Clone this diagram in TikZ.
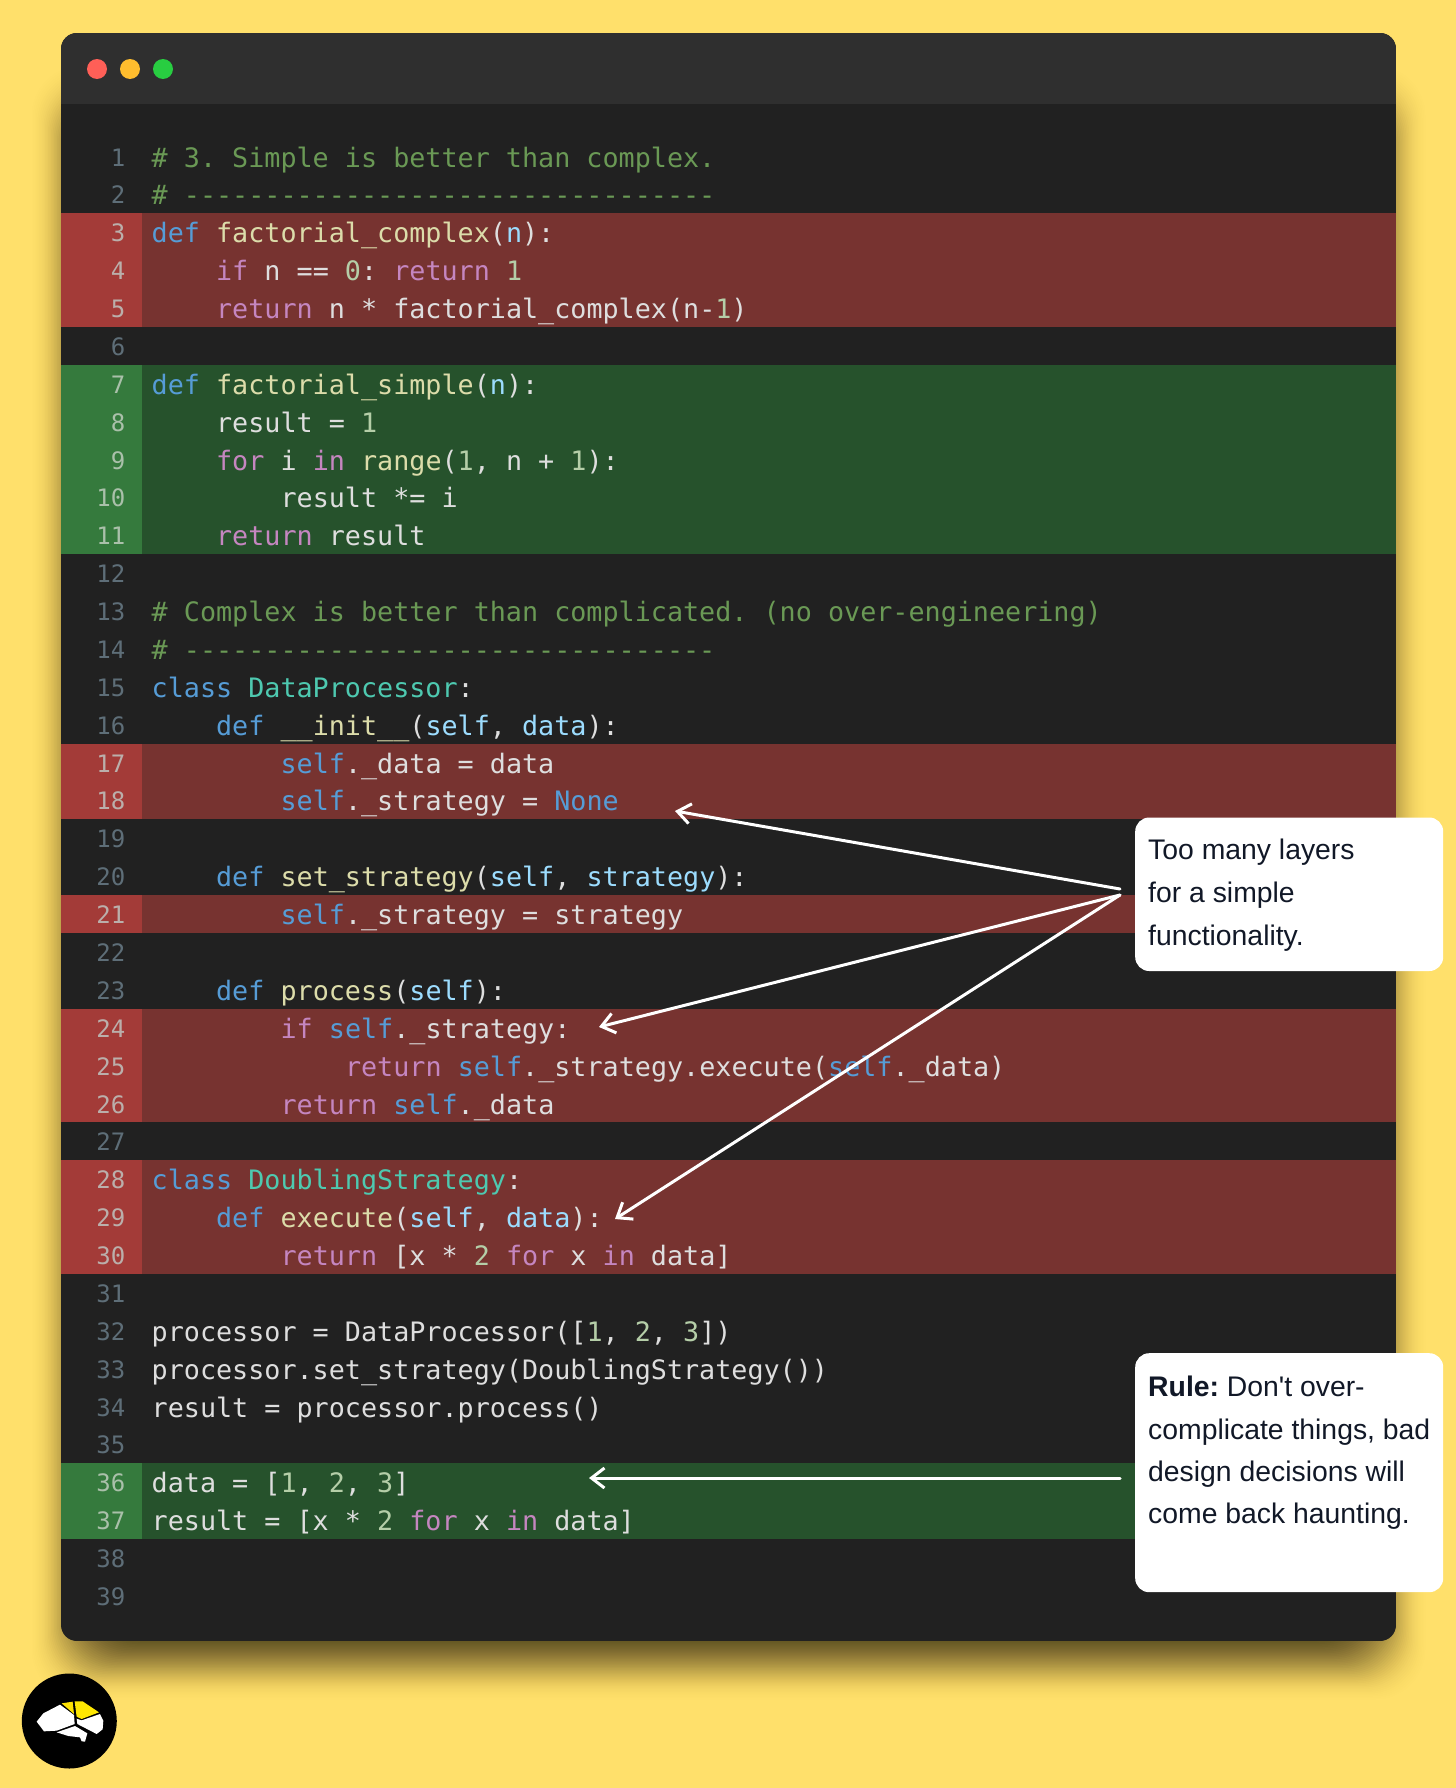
\documentclass[tikz,border=0pt]{standalone}
\usepackage{fontspec}
\usetikzlibrary{arrows.meta}
\setmainfont{Liberation Sans}
\newfontfamily\callfont{Liberation Sans}
\newfontfamily\codefont{DejaVu Sans Mono}
\frenchspacing
\definecolor{bgyellow}{HTML}{FFE06B}
\definecolor{winbody}{HTML}{212121}
\definecolor{wintitle}{HTML}{2F2F2F}
\definecolor{redgut}{HTML}{A33B38}
\definecolor{redrow}{HTML}{773330}
\definecolor{greengut}{HTML}{357A3D}
\definecolor{greenrow}{HTML}{26522C}
\definecolor{cplain}{HTML}{DEDEDE}
\definecolor{ckw}{HTML}{C586C0}
\definecolor{cblue}{HTML}{569CD6}
\definecolor{cfn}{HTML}{DCDCAA}
\definecolor{cvar}{HTML}{9CDCFE}
\definecolor{cnum}{HTML}{B5CEA8}
\definecolor{ccom}{HTML}{6A9955}
\definecolor{cteal}{HTML}{4EC9B0}
\definecolor{inktext}{HTML}{111827}
\definecolor{numdark}{HTML}{5E6E78}
\definecolor{numred}{HTML}{BBAFAB}
\definecolor{numgreen}{HTML}{AAC0AA}
\newcommand{\K}[1]{\textcolor{ckw}{#1}}
\newcommand{\B}[1]{\textcolor{cblue}{#1}}
\newcommand{\F}[1]{\textcolor{cfn}{#1}}
\newcommand{\V}[1]{\textcolor{cvar}{#1}}
\newcommand{\N}[1]{\textcolor{cnum}{#1}}
\newcommand{\Cm}[1]{\textcolor{ccom}{#1}}
\newcommand{\Tl}[1]{\textcolor{cteal}{#1}}
\newcommand{\codeline}[3]{%
  \pgfmathsetmacro\cx{151.5+#2*16.11}%
  \pgfmathsetmacro\cy{167+(#1-1)*37.88}%
  \node[codetext] (c#1) at (\cx,\cy) {#3};}
\newcommand{\numline}[2]{%
  \pgfmathsetmacro\cy{166+(#1-1)*37.88}%
  \node[numtext,text=#2] (n#1) at (125.5,\cy) {#1};}
\newcommand{\band}[3]{%
  \pgfmathsetmacro\ya{137.5+(#1-1)*37.88}%
  \pgfmathsetmacro\yb{137.5+#2*37.88}%
  \fill[#3row] (61,\ya) rectangle (1396,\yb);
  \fill[#3gut] (61,\ya) rectangle (142,\yb);}
\tikzset{
  codetext/.style={anchor=base west,inner sep=0pt,text=cplain,font=\codefont\fontsize{26.75}{30}\selectfont},
  numtext/.style={anchor=base east,inner sep=0pt,font=\codefont\fontsize{24}{28}\selectfont},
  callout/.style={fill=white,rounded corners=14pt,inner sep=0pt,anchor=north west},
  calltext/.style={anchor=base west,inner sep=0pt,text=inktext,font=\callfont\fontsize{28.35}{34}\selectfont},
  pointer/.style={draw=white,line width=3pt,line cap=round,-{Straight Barb[length=13pt,width=20pt,line width=3pt]}},
  light/.style={circle,inner sep=0pt,minimum size=20pt},
}
\begin{document}
\begin{tikzpicture}[x=1pt,y=-1pt]
\useasboundingbox (0,0) rectangle (1456,1788);
\fill[bgyellow] (0,0) rectangle (1456,1788);
% soft shadow under the window: bell-shaped stack of faint layers
\foreach \s in {55,53.5,...,-55}{
  \pgfmathsetmacro\shop{0.03*sin((55-\s)/110*180)^2}
  \fill[black,opacity=\shop,rounded corners=50pt]
    (76-\s,110-\s) rectangle (1381+\s,1655+\s);
}
% window
\begin{scope}
  \clip[rounded corners=16pt] (61,33) rectangle (1396,1641);
  \fill[winbody] (61,33) rectangle (1396,1641);
  \fill[wintitle] (61,33) rectangle (1396,104);
  \band{3}{5}{red}
  \band{7}{11}{green}
  \band{17}{18}{red}
  \band{21}{21}{red}
  \band{24}{26}{red}
  \band{28}{30}{red}
  \band{36}{37}{green}
\end{scope}
\node[light,fill={rgb,255:red,255;green,95;blue,87}] (lr) at (97,69) {};
\node[light,fill={rgb,255:red,255;green,189;blue,46}] (ly) at (130,69) {};
\node[light,fill={rgb,255:red,40;green,205;blue,65}] (lg) at (163,69) {};
% line numbers
\foreach \k in {1,2,6,12,13,14,15,16,19,20,22,23,27,31,32,33,34,35,38,39}{\numline{\k}{numdark}}
\foreach \k in {3,4,5,17,18,21,24,25,26,28,29,30}{\numline{\k}{numred}}
\foreach \k in {7,8,9,10,11,36,37}{\numline{\k}{numgreen}}
% code
\codeline{1}{0}{\Cm{\# 3. Simple is better than complex.}}
\codeline{2}{0}{\Cm{\# ---------------------------------}}
\codeline{3}{0}{\B{def} \F{factorial\_complex}(\V{n}):}
\codeline{4}{4}{\K{if} n == \N{0}: \K{return} \N{1}}
\codeline{5}{4}{\K{return} n * factorial\_complex(n-\N{1})}
\codeline{7}{0}{\B{def} \F{factorial\_simple}(\V{n}):}
\codeline{8}{4}{result = \N{1}}
\codeline{9}{4}{\K{for} i \K{in} \F{range}(\N{1}, n + \N{1}):}
\codeline{10}{8}{result *= i}
\codeline{11}{4}{\K{return} result}
\codeline{13}{0}{\Cm{\# Complex is better than complicated. (no over-engineering)}}
\codeline{14}{0}{\Cm{\# ---------------------------------}}
\codeline{15}{0}{\B{class} \Tl{DataProcessor}:}
\codeline{16}{4}{\B{def} \F{\_\_init\_\_}(\V{self}, \V{data}):}
\codeline{17}{8}{\B{self}.\_data = data}
\codeline{18}{8}{\B{self}.\_strategy = \B{None}}
\codeline{20}{4}{\B{def} \F{set\_strategy}(\V{self}, \V{strategy}):}
\codeline{21}{8}{\B{self}.\_strategy = strategy}
\codeline{23}{4}{\B{def} \F{process}(\V{self}):}
\codeline{24}{8}{\K{if} \B{self}.\_strategy:}
\codeline{25}{12}{\K{return} \B{self}.\_strategy.execute(\B{self}.\_data)}
\codeline{26}{8}{\K{return} \B{self}.\_data}
\codeline{28}{0}{\B{class} \Tl{DoublingStrategy}:}
\codeline{29}{4}{\B{def} \F{execute}(\V{self}, \V{data}):}
\codeline{30}{8}{\K{return} [x * \N{2} \K{for} x \K{in} data]}
\codeline{32}{0}{processor = DataProcessor([\N{1}, \N{2}, \N{3}])}
\codeline{33}{0}{processor.set\_strategy(DoublingStrategy())}
\codeline{34}{0}{result = processor.process()}
\codeline{36}{0}{data = [\N{1}, \N{2}, \N{3}]}
\codeline{37}{0}{result = [x * \N{2} \K{for} x \K{in} data]}
% callouts
\node[callout,minimum width=308pt,minimum height=153.5pt] (box1) at (1135,817.3) {};
\node[callout,minimum width=308pt,minimum height=239pt] (box2) at (1135,1353) {};
\node[calltext] (t1a) at (1148,859) {Too many layers};
\node[calltext] (t1b) at (1148,902.5) {for a simple};
\node[calltext] (t1c) at (1148,945) {functionality.};
\node[calltext] (t2a) at (1148,1396) {\textbf{Rule:} Don't over-};
\node[calltext] (t2b) at (1148,1439) {complicate things, bad};
\node[calltext] (t2c) at (1148,1481) {design decisions will};
\node[calltext] (t2d) at (1148,1523) {come back haunting.};
% arrows
\coordinate (s1) at (1120,889);
\coordinate (s2) at (1120,895);
\coordinate (s4) at (1120,1478);
\coordinate (e1) at (675,811);
\coordinate (e2) at (599,1027);
\coordinate (e3) at (615,1219);
\coordinate (e4) at (589,1478);
\draw[pointer] (s1) -- (e1);
\draw[pointer] (s2) -- (e2);
\draw[pointer] (s2) -- (e3);
\draw[pointer] (s4) -- (e4);
% logo
\node[circle,fill=black,minimum size=95pt,inner sep=0pt] (logo) at (69.3,1721) {};
\begin{scope}[shift={(0,1600)},x=0.3333pt,y=-0.3333pt]
  \fill[white] (110,365) -- (130,340) -- (180,314) -- (222,345) -- (224,372) -- (170,392) -- (132,394) -- cycle;
  \fill[yellow!85!orange] (185,310) -- (218,305) -- (222,342) -- cycle;
  \fill[yellow!90!orange] (224,304) -- (248,304) -- (297,337) -- (245,357) -- (230,350) -- cycle;
  \fill[white] (230,356) -- (245,361) -- (300,342) -- (310,362) -- (308,388) -- (290,402) -- (232,372) -- cycle;
  \fill[white] (170,397) -- (225,378) -- (262,400) -- (255,425) -- (245,424) -- (240,412) -- (205,408) -- cycle;
\end{scope}
\end{tikzpicture}
\end{document}
